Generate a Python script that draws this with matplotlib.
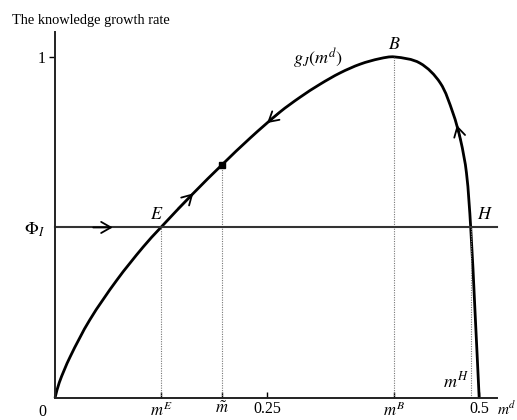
import matplotlib
matplotlib.use("Agg")
import matplotlib.pyplot as plt
import numpy as np
from matplotlib.path import Path
from matplotlib.patches import PathPatch

plt.rcParams['font.family'] = ['Liberation Serif', 'DejaVu Serif']
plt.rcParams['mathtext.fontset'] = 'stix'

# knowledge growth curve g_J(m^d)
m_vals = [0.0, 0.005, 0.0177, 0.041, 0.073, 0.104, 0.124, 0.163, 0.197, 0.230,
          0.265, 0.289, 0.3125, 0.336, 0.360, 0.383, 0.400, 0.430, 0.454,
          0.469, 0.478, 0.485, 0.490, 0.495, 0.500]
g_vals = [0.0, 0.045, 0.120, 0.229, 0.346, 0.443, 0.498, 0.600, 0.684, 0.762,
          0.838, 0.882, 0.920, 0.953, 0.979, 0.995, 1.000, 0.982, 0.924,
          0.836, 0.757, 0.660, 0.500, 0.258, 0.0]

phi_I = 0.5
m_E = 0.125
m_tilde = 0.197
g_tilde = 0.684
m_B = 0.40
g_B = 1.0
m_H = 0.49

xtick_pos = [m_E, m_tilde, 0.25, m_B, 0.5]
xtick_lab = [r'$m^E$', r'$\tilde{m}$', '0.25', r'$m^B$', '0.5']

W, H = 517, 420
fig = plt.figure(figsize=(W / 100, H / 100), dpi=100)
ax = fig.add_axes([55 / W, 22 / H, 442 / W, 366 / H])
ax.set_xlim(0, 0.521)
ax.set_ylim(0, 1.073)

for s in ['top', 'right']:
    ax.spines[s].set_visible(False)
for s in ['left', 'bottom']:
    ax.spines[s].set_linewidth(1.4)
    ax.spines[s].set_color('#222222')

fs = 11.5
ms = 13
ax.set_xticks(xtick_pos)
ax.set_xticklabels(xtick_lab, fontsize=fs)
for lab in ax.get_xticklabels():
    if lab.get_text().startswith('$'):
        lab.set_fontsize(12)
ax.tick_params(axis='x', direction='in', length=4, width=1, pad=2)
ax.set_yticks([phi_I, 1.0])
ax.set_yticklabels([r'$\Phi_I$', '1'], fontsize=fs)
ax.get_yticklabels()[0].set_fontsize(ms)
ax.tick_params(axis='y', direction='out', length=4, width=1, pad=3)
ax.yaxis.get_major_ticks()[0].tick1line.set_visible(False)

# origin label
ax.annotate('0', xy=(0, 0), xytext=(-9, -10), textcoords='offset points',
            fontsize=fs, ha='center', va='center', annotation_clip=False)

# guide lines
dot_kw = dict(color='#777777', lw=0.8, ls=(0, (1, 1.2)))
ax.plot([m_E, m_E], [0, phi_I], **dot_kw)
ax.plot([m_tilde, m_tilde], [0, g_tilde], **dot_kw)
ax.plot([m_B, m_B], [0, g_B], **dot_kw)
ax.plot([m_H, m_H], [0, phi_I], **dot_kw)

# Phi_I level
ax.plot([0, 0.521], [phi_I, phi_I], color='#333333', lw=1.5, clip_on=False)


def smooth_path(xs, ys):
    """Cubic Bezier path through the given points (tangents taken in screen space)."""
    pts = ax.transData.transform(np.column_stack([xs, ys]))
    n = len(pts)
    tang = np.zeros_like(pts)
    for i in range(n):
        a = pts[max(i - 1, 0)]
        b = pts[min(i + 1, n - 1)]
        d = b - a
        tang[i] = d / np.hypot(*d)
    verts = [pts[0]]
    codes = [Path.MOVETO]
    for i in range(n - 1):
        seg = np.hypot(*(pts[i + 1] - pts[i]))
        verts += [pts[i] + tang[i] * seg / 3, pts[i + 1] - tang[i + 1] * seg / 3, pts[i + 1]]
        codes += [Path.CURVE4] * 3
    verts = ax.transData.inverted().transform(np.array(verts))
    return Path(verts, codes)


# growth curve
ax.add_patch(PathPatch(smooth_path(m_vals, g_vals), fill=False, edgecolor='black',
                       lw=2.0, clip_on=False))
ax.plot([m_tilde], [g_tilde], 's', color='black', ms=4)

# direction arrows
arr = dict(arrowstyle='->,head_length=0.7,head_width=0.4', color='black', lw=1.3,
           shrinkA=0, shrinkB=0)
ax.annotate('', xy=(0.068, phi_I), xytext=(0.045, phi_I), arrowprops=arr)
ax.annotate('', xy=(0.163, 0.600), xytext=(0.145, 0.555), arrowprops=arr)
ax.annotate('', xy=(0.250, 0.806), xytext=(0.265, 0.838), arrowprops=arr)
ax.annotate('', xy=(0.4737, 0.800), xytext=(0.478, 0.757), arrowprops=arr)

# point labels
ax.text(m_E - 0.005, phi_I + 0.012, '$E$', fontsize=ms, ha='center', va='bottom')
ax.text(0.497, phi_I + 0.012, '$H$', fontsize=ms, ha='left', va='bottom')
ax.text(m_B, g_B + 0.012, '$B$', fontsize=ms, ha='center', va='bottom')
ax.text(0.31, 0.96, r'$g_J(m^d)$', fontsize=ms, ha='center', va='bottom')
ax.text(0.488, 0.02, r'$m^H$', fontsize=ms, ha='right', va='bottom')
ax.text(0.521, -0.03, r'$m^d$', fontsize=11, ha='left', va='center', clip_on=False)

fig.text(12 / W, 1 - 24 / H, 'The knowledge growth rate', fontsize=10.4,
         ha='left', va='baseline')

fig.savefig('out.png', dpi=100)
